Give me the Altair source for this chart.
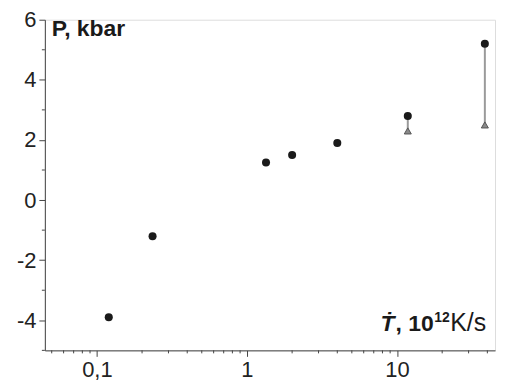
import altair as alt
import pandas as pd

# data
rate = [0.12, 0.235, 1.34, 2.0, 4.0, 11.8, 38.5]
pressure = [-3.9, -1.2, 1.25, 1.5, 1.9, 2.8, 5.2]
tri_rate = [11.8, 38.5]
tri_pressure = [2.3, 2.5]
tri_top = [2.8, 5.2]

x_major = [0.1, 1, 10]
x_minor = [0.05, 0.06, 0.07, 0.08, 0.09, 0.2, 0.3, 0.4, 0.5, 0.6, 0.7, 0.8, 0.9,
           2, 3, 4, 5, 6, 7, 8, 9, 20, 30, 40]
y_major = [-4, -2, 0, 2, 4, 6]
y_minor = [-5, -3, -1, 1, 3, 5]

W, H = 452, 332
FONT = "Liberation Sans"
AX = "#444"

pts = pd.DataFrame({"rate": rate, "P": pressure})
tri = pd.DataFrame({"rate": tri_rate, "P": tri_pressure, "Ptop": tri_top})
xm = pd.DataFrame({"v": x_minor})
ym = pd.DataFrame({"v": y_minor})

xscale = alt.Scale(type="log", domain=[0.045, 45], nice=False)
yscale = alt.Scale(domain=[-5, 6], nice=False, zero=False)

xaxis = alt.Axis(values=x_major, title=None, grid=False, tickSize=6, tickColor=AX,
                 domainColor=AX, labelFont=FONT, labelFontSize=22, labelColor="#222",
                 labelPadding=3, format="~g",
                 labelExpr="replace(datum.label, '.', ',')")
yaxis = alt.Axis(values=y_major, title=None, grid=False, tickSize=6, tickColor=AX,
                 domainColor=AX, labelFont=FONT, labelFontSize=22, labelColor="#222",
                 labelPadding=3,
                 labelExpr="replace(datum.label, '\u2212', '-')")

rules = alt.Chart(tri).mark_rule(color="#9a9a9a", strokeWidth=2).encode(
    x=alt.X("rate:Q", scale=xscale, axis=xaxis),
    y=alt.Y("P:Q", scale=yscale, axis=yaxis),
    y2="Ptop:Q",
)

circles = alt.Chart(pts).mark_point(shape="circle", filled=True, size=65,
                                    color="#1a1a1a", opacity=1).encode(
    x="rate:Q", y="P:Q")

triangles = alt.Chart(tri).mark_point(shape="triangle-up", filled=True, size=50,
                                      fill="#8a8a8a", stroke="#555", strokeWidth=1,
                                      opacity=1).encode(
    x="rate:Q", y="P:Q")

xminor = alt.Chart(xm).mark_rule(color=AX, strokeWidth=1).encode(
    x="v:Q", y=alt.value(H), y2=alt.value(H + 3))
yminor = alt.Chart(ym).mark_rule(color=AX, strokeWidth=1).encode(
    y="v:Q", x=alt.value(-3), x2=alt.value(0))

ylabel = alt.Chart(pd.DataFrame({"t": ["P, kbar"]})).mark_text(
    font=FONT, fontSize=23, fontWeight="bold", align="left", baseline="alphabetic",
    color="#1a1a1a").encode(text="t:N", x=alt.value(7), y=alt.value(16))

base_y = 313
t_dot = alt.Chart(pd.DataFrame({"t": ["Ṫ"]})).mark_text(
    font=FONT, fontSize=23, fontWeight="bold", fontStyle="italic", align="left",
    baseline="alphabetic", color="#1a1a1a").encode(
    text="t:N", x=alt.value(337), y=alt.value(base_y))
t_ten = alt.Chart(pd.DataFrame({"t": [", 10"]})).mark_text(
    font=FONT, fontSize=23, fontWeight="bold", align="left",
    baseline="alphabetic", color="#1a1a1a").encode(
    text="t:N", x=alt.value(352), y=alt.value(base_y))
t_exp = alt.Chart(pd.DataFrame({"t": ["12"]})).mark_text(
    font=FONT, fontSize=14, fontWeight="bold", align="left",
    baseline="alphabetic", color="#1a1a1a").encode(
    text="t:N", x=alt.value(391), y=alt.value(base_y - 9))
t_unit = alt.Chart(pd.DataFrame({"t": ["K/s"]})).mark_text(
    font=FONT, fontSize=25, align="left",
    baseline="alphabetic", color="#1a1a1a").encode(
    text="t:N", x=alt.value(407), y=alt.value(base_y))

chart = alt.layer(rules, xminor, yminor, circles, triangles, ylabel,
                  t_dot, t_ten, t_exp, t_unit).properties(
    width=W, height=H,
    autosize=alt.AutoSizeParams(type="none"),
    padding={"left": 37, "top": 11, "right": 5, "bottom": 30},
).configure_view(stroke=None).configure(background="white")

chart.save("out.html", embed_options={"renderer": "svg", "actions": False})
